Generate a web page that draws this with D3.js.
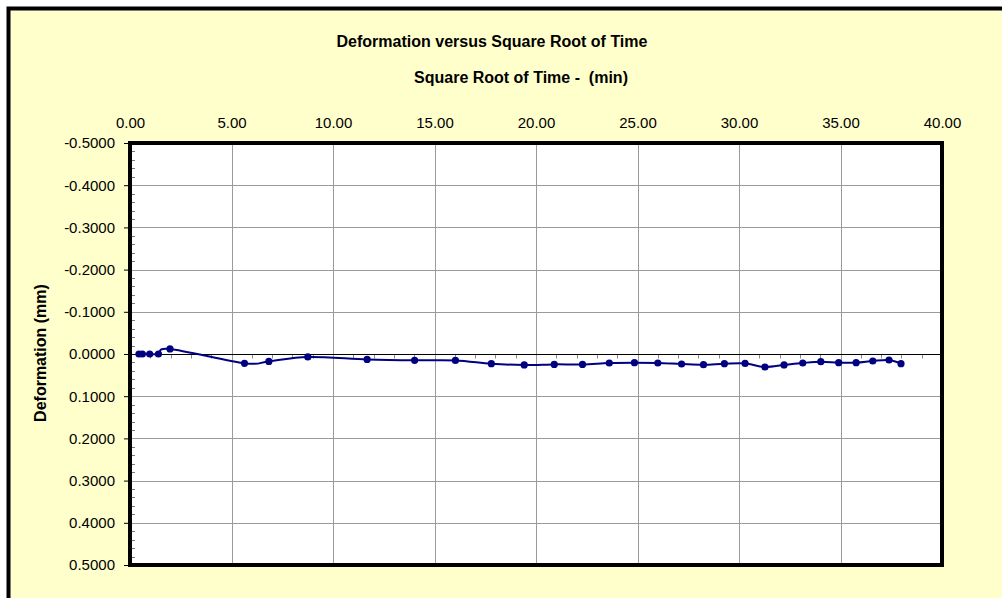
<!DOCTYPE html>
<html><head><meta charset="utf-8">
<script src="https://cdn.jsdelivr.net/npm/d3@7"></script>
<style>
html,body{margin:0;padding:0;background:#fff;}
svg{display:block;font-family:Arial,"Liberation Sans",sans-serif;}
</style></head>
<body>
<svg id="c" width="1002" height="598"></svg>
<script>
// Data
const sqrtTime = [0.44, 0.61, 0.97, 1.40, 1.97, 5.64, 6.84, 8.76, 11.68, 14.02, 16.03, 17.80, 19.42, 20.90, 22.29, 23.61, 24.85, 26.00, 27.17, 28.25, 29.28, 30.30, 31.28, 32.22, 33.14, 34.03, 34.91, 35.77, 36.59, 37.39, 37.98];
const deformation = [0, 0, 0, 0, -0.012, 0.022, 0.0175, 0.007, 0.0128, 0.015, 0.0152, 0.023, 0.026, 0.0246, 0.0246, 0.0213, 0.0206, 0.0213, 0.0237, 0.0254, 0.023, 0.0223, 0.0308, 0.026, 0.0213, 0.0182, 0.0206, 0.0206, 0.0166, 0.0142, 0.023];
const xTicks = [0, 5, 10, 15, 20, 25, 30, 35, 40];
const yTicks = [-0.5, -0.4, -0.3, -0.2, -0.1, 0, 0.1, 0.2, 0.3, 0.4, 0.5];
const title = "Deformation versus Square Root of Time";
const xTitle = "Square Root of Time -  (min)";
const yTitle = "Deformation (mm)";

const svg = d3.select("#c");
const L = 130, R = 942, T = 143, B = 565;
const x = d3.scaleLinear().domain([0, 40]).range([L, R]);
const y = d3.scaleLinear().domain([-0.5, 0.5]).range([T, B]);
const fmtY = d => (d < 0 ? "-" : "") + Math.abs(d).toFixed(4);
const fmtX = d => d.toFixed(2);

// chart background + outer border
svg.append("rect").attr("x", 8.5).attr("y", 8.5).attr("width", 1010).attr("height", 610)
  .attr("fill", "#FFFFCC").attr("stroke", "#000").attr("stroke-width", 4);

// plot area
svg.append("rect").attr("x", L).attr("y", T).attr("width", R - L).attr("height", B - T).attr("fill", "#fff");

// gridlines
const g = svg.append("g");
g.selectAll("line.vg").data(xTicks.filter(d => d > 0 && d < 40)).enter().append("line")
  .attr("x1", d => Math.round(x(d)) + 0.5).attr("x2", d => Math.round(x(d)) + 0.5)
  .attr("y1", T).attr("y2", B).attr("stroke", "#9a9a9a").attr("stroke-width", 1);
g.selectAll("line.hg").data(yTicks.filter(d => d > -0.5 && d < 0.5 && d !== 0)).enter().append("line")
  .attr("x1", L).attr("x2", R)
  .attr("y1", d => Math.round(y(d)) + 0.5).attr("y2", d => Math.round(y(d)) + 0.5)
  .attr("stroke", "#9a9a9a").attr("stroke-width", 1);

// y minor ticks (inside)
const yMinor = d3.range(-0.5, 0.5001, 0.02).filter(v => Math.abs(Math.round(v * 10) - v * 10) > 1e-6);
g.selectAll("line.ym").data(yMinor).enter().append("line")
  .attr("x1", L).attr("x2", L + 5)
  .attr("y1", d => Math.round(y(d)) + 0.5).attr("y2", d => Math.round(y(d)) + 0.5)
  .attr("stroke", "#777").attr("stroke-width", 1);

// zero line with minor ticks
const y0 = Math.round(y(0)) + 0.5;
svg.append("line").attr("x1", L).attr("x2", R).attr("y1", y0).attr("y2", y0).attr("stroke", "#000").attr("stroke-width", 1.2);
const xMinor = d3.range(1, 40).filter(v => v % 5 !== 0);
g.selectAll("line.xm").data(xMinor).enter().append("line")
  .attr("x1", d => Math.round(x(d)) + 0.5).attr("x2", d => Math.round(x(d)) + 0.5)
  .attr("y1", y0).attr("y2", y0 + 4).attr("stroke", "#888").attr("stroke-width", 1);

// y axis (left, major ticks outward)
const yAxis = d3.axisLeft(y).tickValues(yTicks).tickFormat(fmtY).tickSize(6).tickPadding(9);
const ya = svg.append("g").attr("transform", `translate(${L},0)`).call(yAxis);
ya.select(".domain").remove();
ya.selectAll(".tick line").attr("stroke", "#000");
ya.selectAll("text").attr("font-size", 15).attr("fill", "#000").attr("font-family", "Arial, 'Liberation Sans', sans-serif");

// x axis (top, labels only)
const xAxis = d3.axisTop(x).tickValues(xTicks).tickFormat(fmtX).tickSize(0).tickPadding(15);
const xa = svg.append("g").attr("transform", `translate(0,${T})`).call(xAxis);
xa.select(".domain").remove();
xa.selectAll("text").attr("font-size", 15).attr("fill", "#000").attr("font-family", "Arial, 'Liberation Sans', sans-serif");

// series
const pts = sqrtTime.map((t, i) => [t, deformation[i]]);
const line = d3.line().x(d => x(d[0])).y(d => y(d[1])).curve(d3.curveCatmullRom.alpha(0));
svg.append("path").datum(pts).attr("d", line).attr("fill", "none").attr("stroke", "#000080").attr("stroke-width", 2);
svg.selectAll("circle.pt").data(pts).enter().append("circle")
  .attr("cx", d => x(d[0])).attr("cy", d => y(d[1])).attr("r", 3.6).attr("fill", "#000080");

// plot border
svg.append("rect").attr("x", L).attr("y", T).attr("width", R - L).attr("height", B - T)
  .attr("fill", "none").attr("stroke", "#000").attr("stroke-width", 4);

// titles
svg.append("text").attr("x", 492).attr("y", 47).attr("text-anchor", "middle")
  .attr("font-size", 16).attr("font-weight", "bold").text(title);
svg.append("text").attr("x", 521).attr("y", 83).attr("text-anchor", "middle")
  .attr("font-size", 16).attr("font-weight", "bold").style("white-space", "pre").text(xTitle);
svg.append("text").attr("transform", "translate(46,353) rotate(-90)").attr("text-anchor", "middle")
  .attr("font-size", 16).attr("font-weight", "bold").text(yTitle);
</script>
</body></html>
